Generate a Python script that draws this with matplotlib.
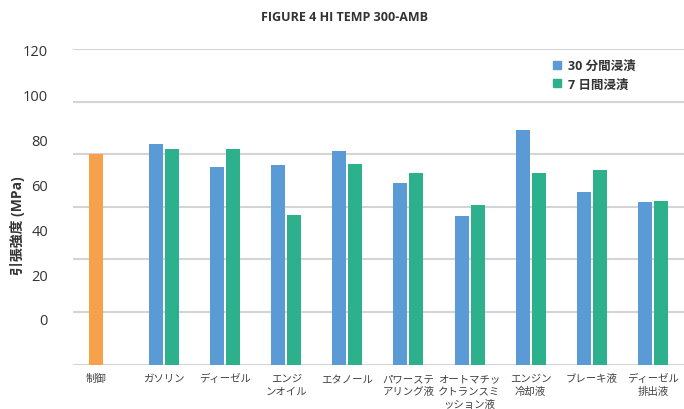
import numpy as np
import matplotlib.pyplot as plt
from matplotlib.patches import Patch

plt.rcParams['font.family'] = ['Open Sans', 'Noto Sans CJK JP', 'DejaVu Sans']

categories = ['制御', 'ガソリン', 'ディーゼル', 'エンジ\nンオイル', 'エタノール',
              'パワーステ\nアリング液', 'オートマチッ\nクトランスミ\nッション液',
              'エンジン\n冷却液', 'ブレーキ液', 'ディーゼル\n排出液']
control = 80.0
soak_30min = [84.0, 75.2, 75.9, 81.3, 69.1, 56.5, 89.2, 65.7, 61.9]
soak_7day = [82.0, 82.0, 56.9, 76.3, 72.9, 60.7, 72.9, 74.0, 62.3]
ytick_labels = ['120', '100', '80', '60', '40', '20', '0']

c_ctrl = '#F7A24A'
c_30 = '#5B9BD5'
c_7 = '#2DB08C'
grid_c = '#D4D4D4'
text_c = '#404040'

fig = plt.figure(figsize=(6.84, 4.10), dpi=100)
ax = fig.add_axes([73 / 684, 1 - 365.7 / 410, 611 / 684, 315.7 / 410])

x = np.arange(len(categories), dtype=float)
x[0] = -0.11
w = 0.229
off = 0.131

ax.bar(x[0], control, width=w, color=c_ctrl, zorder=3)
ax.bar(x[1:] - off, soak_30min, width=w, color=c_30, zorder=3)
ax.bar(x[1:] + off, soak_7day, width=w, color=c_7, zorder=3)

ax.set_xlim(-0.49, 9.51)
ax.set_ylim(0, 120)

# gridlines every 20; the labels sit on their own (compressed) spacing
ax.set_yticks(np.arange(0, 121, 20), minor=True)
ax.grid(True, which='minor', axis='y', color=grid_c, lw=1.5, zorder=0)
ax.tick_params(axis='y', which='minor', length=0)
ax.set_yticks(np.linspace(119.7, 17.4, len(ytick_labels)))
ax.set_yticklabels(ytick_labels, fontsize=10.5, color='#333333')
ax.tick_params(axis='y', which='major', length=0, pad=18)

ax.set_xticks(x)
ax.set_xticklabels(categories, fontsize=7.5, color=text_c, linespacing=1.25)
ax.tick_params(axis='x', length=0, pad=6)

for s in ax.spines.values():
    s.set_visible(False)

fig.text(0.504, 0.958, 'FIGURE 4 HI TEMP 300-AMB', ha='center', va='center',
         fontsize=9, fontweight='bold', color='#333333')
fig.text(0.026, 0.449, '引張強度 (MPa)', rotation=90, ha='center', va='center',
         fontsize=10, fontweight='bold', color='#333333')

handles = [Patch(color=c_30, label='30 分間浸漬'), Patch(color=c_7, label='7 日間浸漬')]
leg = fig.legend(handles=handles, loc='upper left', bbox_to_anchor=(548 / 684, 1 - 55 / 410),
                 frameon=False, handlelength=0.6, handleheight=0.6, handletextpad=0.6,
                 labelspacing=0.45, prop={'size': 9, 'weight': 'bold'}, borderaxespad=0)
for t in leg.get_texts():
    t.set_color('#333333')

fig.savefig('out.png', dpi=100)
